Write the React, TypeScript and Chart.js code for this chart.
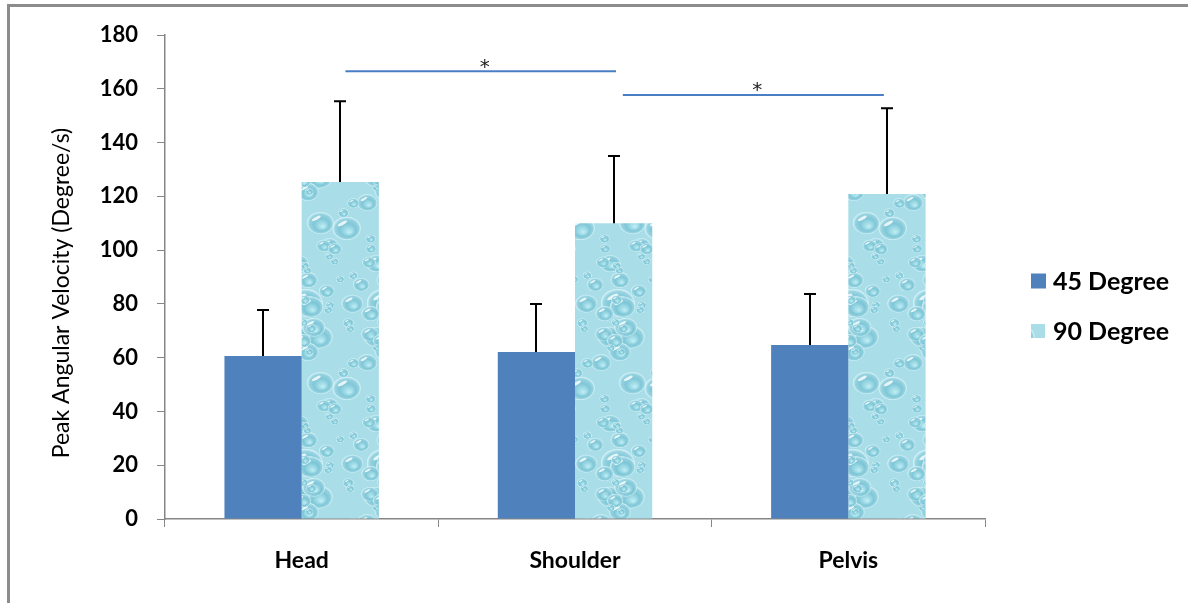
import React, { useEffect, useRef } from "react";
import { Chart, registerables } from "chart.js";

Chart.register(...registerables);

const categories = ["Head", "Shoulder", "Pelvis"];
const seriesNames = ["45 Degree", "90 Degree"];
const values45 = [60.6, 62.1, 64.7];
const values90 = [125.3, 110.0, 120.9];
const sd45 = [17.1, 17.9, 19.0];
const sd90 = [30.1, 25.0, 31.9];
const yTitle = "Peak Angular Velocity (Degree/s)";
// significance brackets: from / to (category index units), height (value units)
const sigFrom = [0.16, 1.175];
const sigTo = [1.15, 2.13];
const sigLevel = [166.5, 157.7];
const sigLabel = ["*", "*"];

const BLUE = "#4F81BD";
const FONT = "Lato, 'Open Sans', sans-serif";

function makeWaterPattern(): CanvasPattern | string {
  const w = 78;
  const h = 160;
  const c = document.createElement("canvas");
  c.width = w;
  c.height = h;
  const g = c.getContext("2d");
  if (!g) return "#B2E3EC";
  g.fillStyle = "#A9DEE8";
  g.fillRect(0, 0, w, h);
  const hash = (n: number) => {
    const s = Math.sin(n * 127.1 + 311.7) * 43758.5453;
    return s - Math.floor(s);
  };
  const drops: number[][] = [];
  for (let i = 0; i < 40; i++) {
    const r = 4 + Math.pow(hash(i * 3 + 2), 2) * 13;
    drops.push([hash(i * 3) * w, hash(i * 3 + 1) * h, r]);
  }
  drops.sort((a, b) => b[2] - a[2]);
  for (const [cx, cy, r] of drops) {
    for (const dx of [-w, 0, w]) {
      for (const dy of [-h, 0, h]) {
        const x = cx + dx;
        const y = cy + dy;
        if (x + r < 0 || x - r > w || y + r < 0 || y - r > h) continue;
        g.save();
        g.translate(x, y);
        g.scale(1, 0.82);
        const rg = g.createRadialGradient(r * 0.2, r * 0.35, r * 0.05, 0, 0, r);
        rg.addColorStop(0, "rgba(190,238,245,0.9)");
        rg.addColorStop(0.55, "rgba(120,195,212,0.85)");
        rg.addColorStop(0.85, "rgba(150,210,224,0.9)");
        rg.addColorStop(1, "rgba(225,247,250,0.95)");
        g.fillStyle = rg;
        g.beginPath();
        g.arc(0, 0, r, 0, Math.PI * 2);
        g.fill();
        g.fillStyle = "rgba(255,255,255,0.8)";
        g.beginPath();
        g.ellipse(-r * 0.3, -r * 0.42, r * 0.38, r * 0.13, -0.6, 0, Math.PI * 2);
        g.fill();
        g.restore();
      }
    }
  }
  return g.createPattern(c, "repeat") || "#B2E3EC";
}

const framePlugin = {
  id: "frame",
  beforeDraw(chart: any) {
    const ctx = chart.ctx;
    ctx.save();
    ctx.fillStyle = "#ffffff";
    ctx.fillRect(0, 0, chart.width, chart.height);
    ctx.fillStyle = "#8C8C8C";
    ctx.fillRect(7, 4, chart.width - 7, 3);
    ctx.fillRect(7, 4, 3, chart.height - 4);
    ctx.restore();
  },
};

const extrasPlugin = {
  id: "extras",
  afterDatasetsDraw(chart: any) {
    const ctx = chart.ctx;
    const ys = chart.scales.y;
    const xs = chart.scales.x;
    const sds = [sd45, sd90];
    ctx.save();
    ctx.strokeStyle = "#000000";
    ctx.lineWidth = 2;
    chart.data.datasets.forEach((ds: any, di: number) => {
      const meta = chart.getDatasetMeta(di);
      meta.data.forEach((bar: any, i: number) => {
        const v = ds.data[i];
        const top = ys.getPixelForValue(v + sds[di][i]);
        const base = ys.getPixelForValue(v);
        const x = Math.round(bar.x);
        ctx.beginPath();
        ctx.moveTo(x, base);
        ctx.lineTo(x, top);
        ctx.moveTo(x - 6, top);
        ctx.lineTo(x + 6, top);
        ctx.stroke();
      });
    });
    // significance lines
    ctx.strokeStyle = "#4A7EC4";
    ctx.lineWidth = 2;
    ctx.fillStyle = "#222222";
    ctx.font = `20px 'DejaVu Sans', sans-serif`;
    ctx.textAlign = "center";
    ctx.textBaseline = "middle";
    sigFrom.forEach((f, k) => {
      const x1 = xs.getPixelForValue(f);
      const x2 = xs.getPixelForValue(sigTo[k]);
      const y = ys.getPixelForValue(sigLevel[k]);
      ctx.beginPath();
      ctx.moveTo(x1, y);
      ctx.lineTo(x2, y);
      ctx.stroke();
      ctx.fillText(sigLabel[k], (x1 + x2) / 2 + 4, y - 4);
    });
    // y title
    ctx.save();
    ctx.translate(62, 293);
    ctx.rotate(-Math.PI / 2);
    ctx.fillStyle = "#000000";
    ctx.font = `23px ${FONT}`;
    ctx.textAlign = "center";
    ctx.textBaseline = "middle";
    ctx.fillText(yTitle, 0, 0);
    ctx.restore();
    // legend
    const lx = 1031;
    const ly = [281, 331];
    ctx.textAlign = "left";
    ctx.textBaseline = "middle";
    ctx.font = `bold 25px ${FONT}`;
    chart.data.datasets.forEach((ds: any, di: number) => {
      ctx.fillStyle = ds.backgroundColor;
      const s = di === 0 ? 15 : 14;
      ctx.fillRect(lx, ly[di] - s / 2, s, s);
      ctx.fillStyle = "#000000";
      ctx.fillText(seriesNames[di], lx + 22, ly[di] + 1);
    });
    ctx.restore();
  },
};

export default function App() {
  const ref = useRef<HTMLCanvasElement | null>(null);
  useEffect(() => {
    if (!ref.current) return;
    const pattern = makeWaterPattern();
    const chart = new Chart(ref.current, {
      type: "bar",
      data: {
        labels: categories,
        datasets: [
          {
            label: seriesNames[0],
            data: values45,
            backgroundColor: BLUE,
            borderWidth: 0,
            categoryPercentage: 0.565,
            barPercentage: 1,
          },
          {
            label: seriesNames[1],
            data: values90,
            backgroundColor: pattern as any,
            borderWidth: 0,
            categoryPercentage: 0.565,
            barPercentage: 1,
          },
        ],
      },
      options: {
        responsive: false,
        animation: false,
        devicePixelRatio: 1,
        layout: { padding: { left: 0, right: 203, top: 35, bottom: 0 } },
        plugins: {
          legend: { display: false },
          tooltip: { enabled: false },
        },
        scales: {
          x: {
            grid: {
              drawOnChartArea: false,
              drawTicks: true,
              tickLength: 8,
              color: "#868686",
              lineWidth: 1,
            },
            border: { color: "#868686", width: 1.5 },
            ticks: {
              color: "#000000",
              font: { family: FONT, size: 23, weight: "bold" },
              padding: 20,
            },
            afterFit(scale: any) {
              scale.height = 84;
            },
          },
          y: {
            min: 0,
            max: 180,
            grid: {
              drawOnChartArea: false,
              drawTicks: true,
              tickLength: 8,
              color: "#868686",
              lineWidth: 1,
            },
            border: { color: "#868686", width: 1.5 },
            ticks: {
              stepSize: 20,
              color: "#000000",
              font: { family: FONT, size: 22, weight: "bold" },
              padding: 19,
            },
            afterFit(scale: any) {
              scale.width = 165;
            },
          },
        },
      },
      plugins: [framePlugin, extrasPlugin],
    });
    return () => chart.destroy();
  }, []);
  return (
    <div style={{ position: "fixed", left: 0, top: 0, width: 1188, height: 603, background: "#fff" }}>
      <canvas ref={ref} width={1188} height={603} style={{ display: "block", width: 1188, height: 603 }} />
    </div>
  );
}
